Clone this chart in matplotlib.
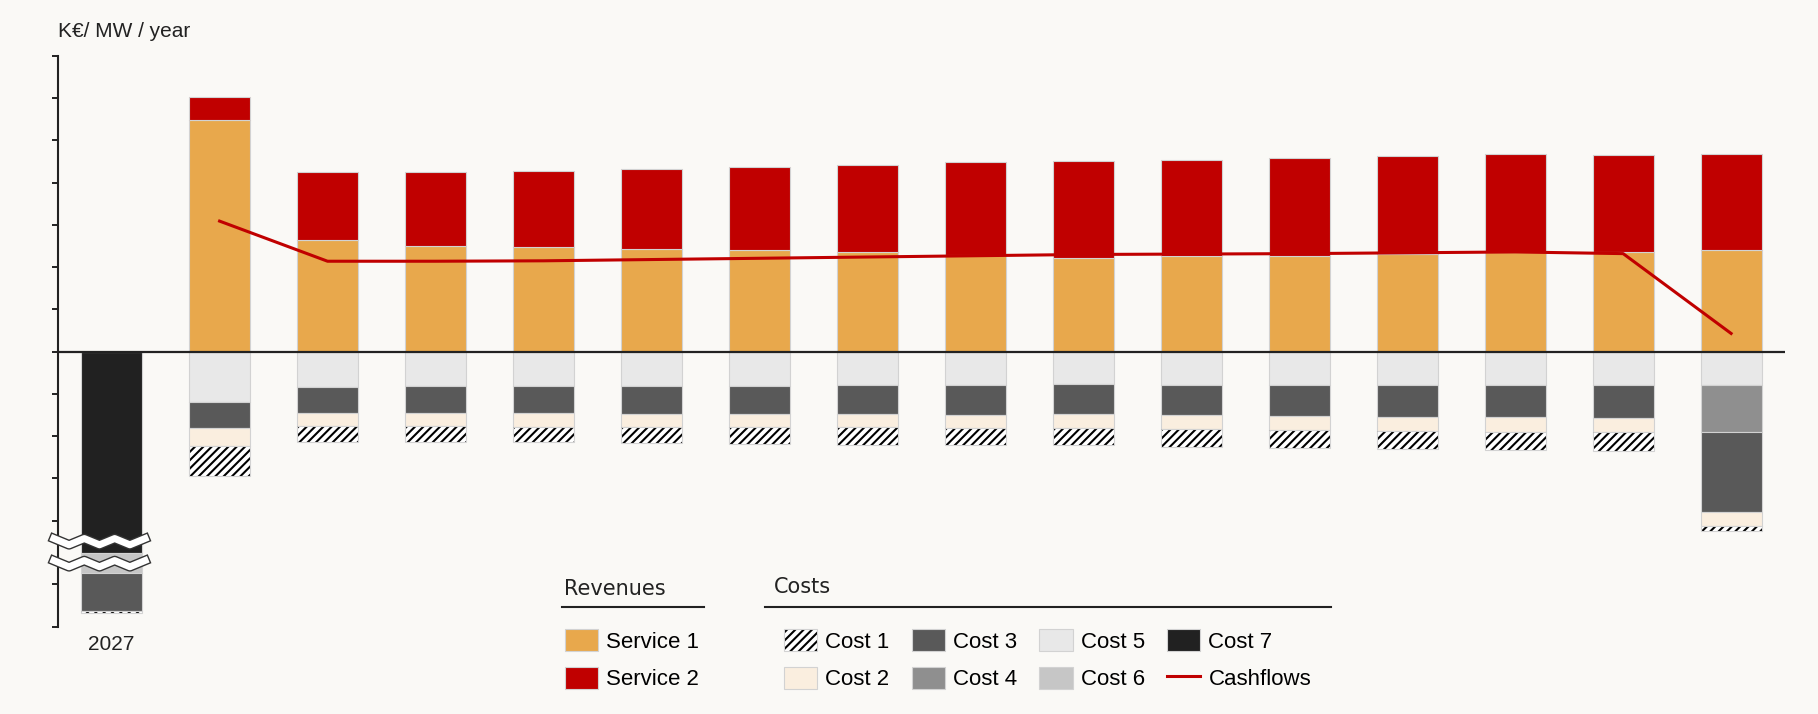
import matplotlib
matplotlib.use('Agg')
import matplotlib.pyplot as plt
import matplotlib.transforms as mtransforms
from matplotlib.patches import Patch
from matplotlib.lines import Line2D
from matplotlib.legend_handler import HandlerTuple
import numpy as np

plt.rcParams['font.family'] = ['Liberation Sans', 'DejaVu Sans']
plt.rcParams['font.size'] = 15
plt.rcParams['hatch.linewidth'] = 1.5

# data (K€ / MW / year), costs given as positive amounts
years = [2027, 2028, 2029, 2030, 2031, 2032, 2033, 2034, 2035, 2036, 2037, 2038, 2039, 2040, 2041, 2042]
service_1 = [0, 54.8, 26.5, 25.1, 24.8, 24.4, 24.1, 23.7, 22.8, 22.2, 22.7, 22.7, 23.1, 23.6, 23.7, 24.0]
service_2 = [0, 5.4, 16.0, 17.4, 18.0, 18.9, 19.6, 20.5, 22.1, 23.0, 22.7, 23.2, 23.25, 23.2, 22.9, 22.8]
cost_7 = [250, 0, 0, 0, 0, 0, 0, 0, 0, 0, 0, 0, 0, 0, 0, 0]
cost_5 = [0, 12.0, 8.3, 8.15, 8.2, 8.2, 8.2, 8.0, 8.0, 7.75, 8.0, 8.0, 8.0, 8.0, 8.0, 7.9]
cost_6 = [127.3, 0, 0, 0, 0, 0, 0, 0, 0, 0, 0, 0, 0, 0, 0, 0]
cost_4 = [0, 0, 0, 0, 0, 0, 0, 0, 0, 0, 0, 0, 0, 0, 0, 11.15]
cost_3 = [9.0, 6.1, 6.2, 6.35, 6.4, 6.6, 6.6, 6.8, 6.95, 7.05, 6.95, 7.2, 7.4, 7.6, 7.7, 18.9]
cost_2 = [0, 4.3, 3.2, 3.2, 3.2, 3.1, 3.1, 3.1, 3.15, 3.3, 3.4, 3.4, 3.35, 3.4, 3.4, 3.4]
cost_1 = [0.5, 7.0, 3.6, 3.6, 3.7, 3.7, 4.0, 4.2, 4.1, 4.1, 4.15, 4.2, 4.35, 4.3, 4.4, 1.2]
cashflows = [np.nan, 30.9, 21.4, 21.4, 21.5, 21.8, 22.1, 22.4, 22.7, 23.0, 23.1, 23.2, 23.4, 23.6, 23.2, 4.3]

bg = '#faf9f6'
dark = '#222222'
edge = '#d2d2d2'
c_s1 = '#e8a84c'
c_s2 = '#c00000'
c_cost = {'Cost 2': '#faeedf', 'Cost 3': '#595959', 'Cost 4': '#8f8f8f',
          'Cost 5': '#e8e8e8', 'Cost 6': '#c6c6c6', 'Cost 7': '#212121'}

# broken y axis: squeeze the two long stretches of the 2027 capex bar
brk_data = [-1000, -376, -252, -248, -45, 1000]
brk_view = [-675.13, -51.13, -49.63, -45.63, -45, 1000]


def fwd(y):
    return np.interp(y, brk_data, brk_view)


def inv(v):
    return np.interp(v, brk_view, brk_data)


fig = plt.figure(figsize=(18.18, 7.14), dpi=100, facecolor=bg)
ax = fig.add_axes([0.0317, 0.1223, 0.9502, 0.7993])
ax.set_facecolor(bg)
ax.set_yscale('function', functions=(fwd, inv))

x = np.arange(len(years))
w = 0.565


def draw(vals, bottom, color):
    vals = np.array(vals, dtype=float)
    m = vals != 0
    ax.bar(x[m], vals[m], w, bottom=bottom[m], color=color, edgecolor=edge, lw=0.8, zorder=2)


# revenues
draw(service_1, np.zeros(len(x)), c_s1)
draw(service_2, np.array(service_1), c_s2)

# costs, stacked downwards
bottom = np.zeros(len(x))
for name, vals in [('Cost 7', cost_7), ('Cost 5', cost_5), ('Cost 6', cost_6),
                   ('Cost 4', cost_4), ('Cost 3', cost_3), ('Cost 2', cost_2)]:
    vals = np.array(vals)
    draw(-vals, bottom, c_cost[name])
    bottom = bottom - vals

c1 = np.array(cost_1)
ax.bar(x, -c1, w, bottom=bottom, color='white', edgecolor='black', lw=0, hatch='////', zorder=2)
ax.bar(x, -c1, w, bottom=bottom, fill=False, edgecolor=edge, lw=0.8, zorder=2)

ax.plot(x, cashflows, color=c_s2, lw=2.2, zorder=4)
ax.axhline(0, color=dark, lw=1.6, zorder=3)

ax.set_xlim(-0.5, 15.5)
ax.set_ylim(-390, 70)
ax.set_yticks(list(range(70, -41, -10)) + [-380, -390])
ax.tick_params(axis='y', length=4.5, width=1.4, colors=dark, labelleft=False)
ax.set_xticks([0])
ax.set_xticklabels(['2027'])
ax.tick_params(axis='x', length=0, pad=6, labelsize=15, labelcolor=dark)
for s in ['top', 'right', 'bottom']:
    ax.spines[s].set_visible(False)
ax.spines['left'].set_linewidth(1.5)
ax.spines['left'].set_color(dark)

ax.text(0, 1.043, 'K€/ MW / year', transform=ax.transAxes, ha='left', va='center', fontsize=15, color=dark)

# wavy break marks across the 2027 bar
trans = mtransforms.blended_transform_factory(ax.transData, ax.transAxes)
zx = np.linspace(-0.535, 0.31, 7)
zz = np.where(np.arange(7) % 2 == 0, 1, -1) * 0.0055
for yc in [(fwd(-45.3) + 65.13) / 135.13, (fwd(-300) + 65.13) / 135.13]:
    ax.plot(zx, yc + zz, color='#333333', lw=7.0, transform=trans, clip_on=False, zorder=5)
    ax.plot(zx, yc + zz, color='white', lw=5.0, transform=trans, clip_on=False, zorder=6)

# legend
rev_h = [Patch(fc=c_s1, ec=edge, lw=0.8), Patch(fc=c_s2, ec=edge, lw=0.8)]
hatch_h = (Patch(fc='white', ec='black', lw=0, hatch='////'), Patch(fill=False, ec=edge, lw=0.8))
cost_h = [hatch_h] + [Patch(fc=c_cost['Cost %d' % i], ec=edge, lw=0.8) for i in range(2, 8)]
cost_h.append(Line2D([], [], color=c_s2, lw=2.2))
cost_l = ['Cost %d' % i for i in range(1, 8)] + ['Cashflows']

leg_kw = dict(loc='upper left', frameon=False, borderpad=0, borderaxespad=0, fontsize=16,
              handlelength=1.5, handleheight=1.17, handletextpad=0.36, labelspacing=0.62,
              columnspacing=1.0, bbox_transform=fig.transFigure,
              handler_map={tuple: HandlerTuple(ndivide=1, pad=0)})
fig.legend(rev_h, ['Service 1', 'Service 2'], bbox_to_anchor=(0.3108, 0.119), ncol=1, **leg_kw)
fig.legend(cost_h, cost_l, bbox_to_anchor=(0.4312, 0.119), ncol=4, **leg_kw)

fig.text(0.3105, 1 - 589 / 714, 'Revenues', family='DejaVu Sans', fontsize=15, va='center', color=dark)
fig.text(0.4258, 1 - 587 / 714, 'Costs', family='DejaVu Sans', fontsize=15, va='center', color=dark)
fig.add_artist(Line2D([562 / 1818, 704 / 1818], [1 - 607 / 714] * 2, color=dark, lw=1.5))
fig.add_artist(Line2D([765 / 1818, 1331 / 1818], [1 - 607 / 714] * 2, color=dark, lw=1.5))

fig.savefig('out.png', dpi=100, facecolor=bg)
